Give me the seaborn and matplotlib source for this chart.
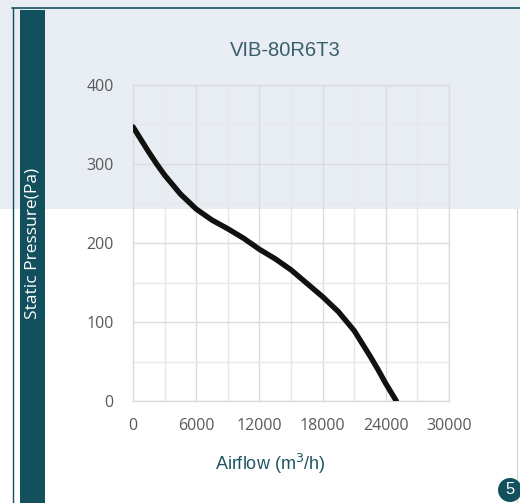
import matplotlib
matplotlib.use('Agg')
import matplotlib.pyplot as plt
import seaborn as sns
import pandas as pd
from matplotlib.patches import Rectangle, Circle
from matplotlib.lines import Line2D
from matplotlib.ticker import MultipleLocator

# data
airflow = [0, 750, 1500, 2250, 3000, 4500, 6000, 7500, 9000, 10500, 12000, 13500,
           15000, 16500, 18000, 19500, 20250, 21000, 22500, 23250, 24000, 24500, 25000]
pressure = [347, 331, 315, 300, 286, 262, 243, 229, 218, 206, 192, 180,
            166, 149, 132, 113, 101, 89, 57, 40, 22, 11, 0]
x_ticks = [0, 6000, 12000, 18000, 24000, 30000]
y_ticks = [0, 100, 200, 300, 400]

title = 'VIB-80R6T3'
teal = '#12505e'

df = pd.DataFrame({'Airflow': airflow, 'Pressure': pressure})

sns.set_style('white')
plt.rcParams['font.family'] = ['Open Sans', 'DejaVu Sans']

fig = plt.figure(figsize=(5.2, 5.03), dpi=100)
W, H = 520, 503

def px(x, y, w, h):
    # pixel box (top-left origin) -> figure coords
    return (x / W, 1 - (y + h) / H), w / W, h / H

# background band on top
(x0, y0), w, h = px(0, 0, 520, 209)
fig.patches.append(Rectangle((x0, y0), w, h, transform=fig.transFigure,
                             facecolor='#e8ecf3', edgecolor='none', zorder=-5))
# frame lines
fig.add_artist(Line2D([12 / W, 1], [1 - 8 / H, 1 - 8 / H], color=teal, lw=1.2, zorder=-4))
fig.add_artist(Line2D([12.5 / W, 12.5 / W], [0, 1 - 8 / H], color=teal, lw=1.0, zorder=-4))
fig.add_artist(Line2D([517 / W, 517 / W], [0, 1 - 209 / H], color='#d0d0d0', lw=0.8, zorder=-4))
# teal side bar
(x0, y0), w, h = px(20, 10, 25, 493)
fig.patches.append(Rectangle((x0, y0), w, h, transform=fig.transFigure,
                             facecolor=teal, edgecolor='none', zorder=-3))
fig.text(32.5 / W, 1 - 243 / H, 'Static Pressure(Pa)', rotation=90, color='white',
         fontsize=12.5, ha='center', va='center', zorder=10)

ax = fig.add_axes([133 / W, 1 - 401 / H, 316 / W, 316 / H])
ax.set_zorder(2)
ax.set_facecolor('none')

sns.lineplot(data=df, x='Airflow', y='Pressure', ax=ax, color='#111111',
             linewidth=3.9, zorder=5)

ax.set_xlim(0, 30000)
ax.set_ylim(0, 400)
ax.set_xticks(x_ticks)
ax.set_yticks(y_ticks)
ax.xaxis.set_minor_locator(MultipleLocator(3000))
ax.yaxis.set_minor_locator(MultipleLocator(50))
ax.grid(True, which='major', color='#dcdcdc', lw=1.0)
ax.grid(True, which='minor', color='#e8e8e8', lw=1.0)
ax.set_axisbelow(True)
for s in ax.spines.values():
    s.set_color('#dcdcdc')
    s.set_linewidth(1.0)
ax.tick_params(which='both', length=0, labelsize=11.5, labelcolor='#595959')
ax.tick_params(axis='y', pad=14)
ax.tick_params(axis='x', pad=12)
ax.set_xlabel('')
ax.set_ylabel('')

fig.text(285 / W, 1 - 50 / H, title, fontsize=14.5, color='#3a5f6b',
         ha='center', va='center', family='Liberation Sans', zorder=10)
fig.text(270 / W, 1 - 464 / H, 'Airflow (m$^3$/h)', fontsize=13, color='#1f5563',
         ha='center', va='center', family='Liberation Sans', zorder=10)

# page number badge
fig.patches.append(Circle((5.10, 0.13), 0.12, transform=fig.dpi_scale_trans,
                          facecolor=teal, edgecolor='none', zorder=5))
fig.text(510 / W, 1 - 490 / H, '5', color='white', fontsize=12,
         ha='center', va='center', family='Liberation Sans', zorder=10)

fig.savefig('out.png', dpi=100)
